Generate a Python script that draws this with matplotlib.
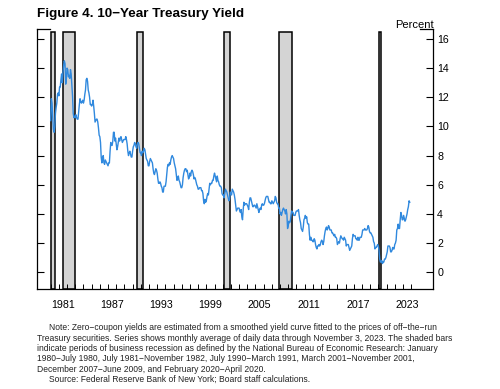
import numpy as np
import matplotlib
matplotlib.use("Agg")
from matplotlib import pyplot as plt

plt.rcParams['font.family'] = ['Liberation Sans', 'DejaVu Sans']

# monthly average 10-year zero-coupon yield, Jan 1980 - Nov 2023 (percent)
y1980s = [
    [10.4, 11.9, 11.6, 10.6, 9.8, 9.6, 10.0, 10.9, 11.3, 11.6, 12.2, 12.3],
    [12.1, 12.7, 12.7, 13.2, 13.6, 13.0, 13.7, 14.2, 14.5, 14.3, 12.9, 13.3],
    [14.0, 13.9, 13.4, 13.5, 13.3, 13.9, 13.6, 12.8, 12.1, 10.9, 10.6, 10.7],
    [10.6, 10.8, 10.6, 10.5, 10.5, 11.0, 11.5, 11.9, 11.7, 11.6, 11.7, 11.8],
    [11.6, 11.8, 12.2, 12.5, 13.2, 13.3, 13.1, 12.5, 12.3, 12.0, 11.5, 11.5],
    [11.4, 11.5, 11.8, 11.4, 10.9, 10.3, 10.4, 10.5, 10.5, 10.3, 9.9, 9.4],
    [9.3, 8.9, 7.9, 7.5, 7.9, 8.0, 7.5, 7.4, 7.7, 7.6, 7.5, 7.4],
    [7.3, 7.5, 7.5, 8.3, 8.9, 8.7, 8.7, 9.0, 9.6, 9.6, 9.0, 9.2],
    [8.8, 8.4, 8.6, 8.9, 9.2, 9.0, 9.2, 9.3, 9.1, 8.9, 9.0, 9.1],
    [9.1, 9.1, 9.3, 9.1, 8.8, 8.3, 8.0, 8.2, 8.3, 8.1, 7.9, 7.9],
]
y1990s = [
    [8.3, 8.6, 8.7, 8.9, 8.8, 8.6, 8.5, 8.8, 8.9, 8.8, 8.5, 8.2],
    [8.2, 8.0, 8.3, 8.2, 8.3, 8.5, 8.4, 8.1, 7.8, 7.7, 7.6, 7.3],
    [7.3, 7.6, 7.8, 7.7, 7.6, 7.5, 7.1, 6.8, 6.7, 6.9, 7.1, 7.0],
    [6.8, 6.4, 6.1, 6.1, 6.2, 6.1, 5.9, 5.8, 5.5, 5.5, 5.9, 5.9],
    [5.9, 6.2, 6.7, 7.2, 7.4, 7.3, 7.5, 7.4, 7.7, 7.9, 8.0, 7.9],
    [7.8, 7.5, 7.3, 7.1, 6.7, 6.3, 6.4, 6.6, 6.3, 6.2, 6.0, 5.8],
    [5.8, 6.0, 6.5, 6.8, 7.0, 7.1, 7.1, 6.9, 7.0, 6.7, 6.4, 6.5],
    [6.8, 6.6, 6.9, 7.0, 6.9, 6.7, 6.4, 6.5, 6.4, 6.2, 6.0, 5.9],
    [5.7, 5.7, 5.8, 5.8, 5.8, 5.6, 5.6, 5.4, 4.9, 4.7, 5.0, 4.8],
    [4.9, 5.2, 5.4, 5.3, 5.7, 6.1, 6.0, 6.1, 6.1, 6.3, 6.3, 6.6],
]
y2000s = [
    [6.8, 6.6, 6.4, 6.2, 6.6, 6.3, 6.2, 6.0, 5.9, 5.9, 5.8, 5.4],
    [5.3, 5.3, 5.1, 5.4, 5.7, 5.6, 5.5, 5.3, 5.1, 4.9, 5.0, 5.5],
    [5.4, 5.3, 5.7, 5.6, 5.5, 5.3, 5.0, 4.6, 4.2, 4.3, 4.4, 4.4],
    [4.4, 4.2, 4.1, 4.3, 3.8, 3.6, 4.3, 4.8, 4.6, 4.7, 4.7, 4.7],
    [4.6, 4.5, 4.3, 4.8, 5.1, 5.1, 4.9, 4.7, 4.5, 4.5, 4.6, 4.6],
    [4.5, 4.4, 4.7, 4.5, 4.3, 4.1, 4.3, 4.4, 4.3, 4.6, 4.7, 4.6],
    [4.6, 4.7, 4.9, 5.1, 5.2, 5.2, 5.2, 5.0, 4.8, 4.8, 4.7, 4.7],
    [4.9, 4.8, 4.7, 4.8, 4.9, 5.2, 5.1, 4.8, 4.7, 4.7, 4.4, 4.4],
    [4.0, 4.1, 3.9, 4.1, 4.3, 4.4, 4.3, 4.2, 4.0, 4.3, 4.0, 3.0],
    [3.2, 3.5, 3.4, 3.5, 3.9, 4.2, 4.1, 4.1, 3.9, 3.9, 3.9, 4.1],
]
y2010s = [
    [4.2, 4.2, 4.2, 4.3, 3.9, 3.6, 3.4, 3.0, 2.9, 2.8, 3.1, 3.6],
    [3.7, 3.9, 3.7, 3.8, 3.4, 3.3, 3.3, 2.6, 2.2, 2.4, 2.2, 2.2],
    [2.1, 2.1, 2.3, 2.2, 1.9, 1.7, 1.6, 1.8, 1.8, 1.9, 1.8, 1.9],
    [2.1, 2.2, 2.1, 1.9, 2.1, 2.5, 2.8, 3.0, 3.1, 2.9, 3.0, 3.2],
    [3.1, 2.9, 2.9, 2.9, 2.7, 2.7, 2.6, 2.5, 2.6, 2.4, 2.4, 2.3],
    [1.9, 2.0, 2.1, 2.0, 2.3, 2.5, 2.4, 2.3, 2.3, 2.2, 2.4, 2.3],
    [2.2, 1.8, 1.9, 1.9, 1.9, 1.7, 1.5, 1.6, 1.7, 1.8, 2.3, 2.6],
    [2.5, 2.5, 2.5, 2.3, 2.3, 2.2, 2.4, 2.2, 2.2, 2.4, 2.4, 2.4],
    [2.6, 2.9, 2.9, 2.9, 3.0, 2.9, 2.9, 2.9, 3.0, 3.2, 3.1, 2.8],
    [2.7, 2.7, 2.6, 2.5, 2.4, 2.1, 2.0, 1.6, 1.7, 1.7, 1.8, 1.9],
]
y2020s = [
    [1.8, 1.5, 0.9, 0.7, 0.7, 0.8, 0.6, 0.7, 0.7, 0.9, 0.9, 1.0],
    [1.2, 1.4, 1.8, 1.8, 1.8, 1.7, 1.4, 1.4, 1.5, 1.7, 1.6, 1.6],
    [1.9, 2.0, 2.2, 2.9, 3.0, 3.3, 3.0, 3.0, 3.6, 4.1, 3.9, 3.6],
    [3.6, 3.9, 3.7, 3.5, 3.6, 3.8, 4.0, 4.3, 4.5, 4.9, 4.8],
]

# recessions (start year, start month, end year, end month)
recessions = [(1980, 1, 1980, 7), (1981, 7, 1982, 11), (1990, 7, 1991, 3),
              (2001, 3, 2001, 11), (2007, 12, 2009, 6), (2020, 2, 2020, 4)]

year_labels = ['1981', '1987', '1993', '1999', '2005', '2011', '2017', '2023']
yticks = [0, 2, 4, 6, 8, 10, 12, 14, 16]

vals = np.array([v for dec in (y1980s, y1990s, y2000s, y2010s, y2020s) for yr in dec for v in yr])
t = 1980 + np.arange(len(vals)) / 12.0

fig = plt.figure(figsize=(5, 3.89), dpi=100)
ax = fig.add_axes([0.074, 0.257, 0.792, 0.668])

for y0, m0, y1, m1 in recessions:
    ax.axvspan(y0 + (m0 - 1) / 12, y1 + m1 / 12, ymin=0, ymax=0.99,
               facecolor='#d4d4d4', edgecolor='black', lw=1.1, zorder=1)

ax.plot(t, vals, color='#3089de', lw=1.0, zorder=3)

ax.set_xlim(1978.33, 2026.67)
ax.set_ylim(-1.15, 16.67)

ax.set_xticks([int(s) + 0.5 for s in year_labels])
ax.set_xticklabels(year_labels)
ax.set_xticks(np.arange(1980, 2025), minor=True)
ax.tick_params(axis='x', which='major', length=0, pad=8, labelsize=7.7)
ax.tick_params(axis='x', which='minor', direction='in', length=3.5, width=0.7)

ax.set_yticks(yticks)
ax.yaxis.set_ticks_position('both')
ax.tick_params(axis='y', direction='in', length=5, width=0.8,
               labelleft=False, labelright=True, labelsize=7.7, pad=3)

ax.spines['top'].set_visible(False)
for s in ('left', 'right', 'bottom'):
    ax.spines[s].set_linewidth(0.9)

# short stubs at the top of both vertical axes
ax.plot([0, 0.033], [1, 1], color='black', lw=0.9, transform=ax.transAxes, clip_on=False)
ax.plot([0.967, 1], [1, 1], color='black', lw=0.9, transform=ax.transAxes, clip_on=False)

fig.text(0.868, 1 - 24.5 / 389, 'Percent', ha='right', va='center', fontsize=8)
fig.text(0.074, 0.965, 'Figure 4. 10\u2212Year Treasury Yield', ha='left', va='center',
         fontsize=9.7, fontweight='bold')

note = [
    (True, 'Note: Zero\u2212coupon yields are estimated from a smoothed yield curve fitted to the prices of off\u2212the\u2212run'),
    (False, 'Treasury securities. Series shows monthly average of daily data through November 3, 2023. The shaded bars'),
    (False, 'indicate periods of business recession as defined by the National Bureau of Economic Research: January'),
    (False, '1980\u2212July 1980, July 1981\u2212November 1982, July 1990\u2212March 1991, March 2001\u2212November 2001,'),
    (False, 'December 2007\u2212June 2009, and February 2020\u2212April 2020.'),
    (True, 'Source: Federal Reserve Bank of New York; Board staff calculations.'),
]
ypix = 327.7
for indent, line in note:
    x = 49.3 if indent else 36.7
    fig.text(x / 500, 1 - ypix / 389, line, ha='left', va='center', fontsize=6.15,
             color='#222222')
    ypix += 10.35

fig.savefig('out.png', dpi=100)
